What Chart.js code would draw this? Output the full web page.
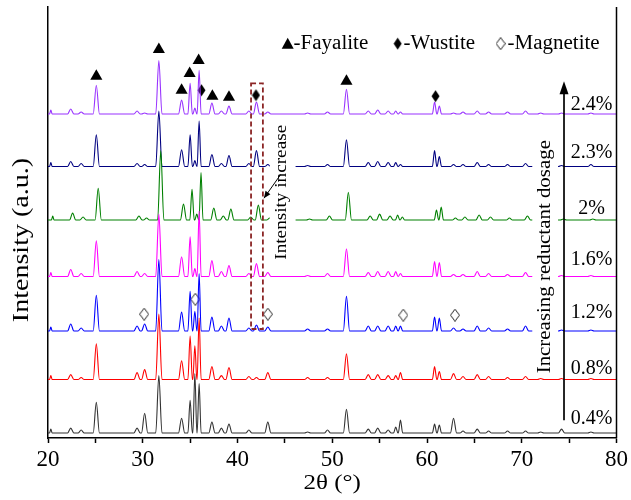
<!DOCTYPE html>
<html>
<head>
<meta charset="utf-8">
<script src="https://cdn.jsdelivr.net/npm/chart.js@4"></script>
<style>
  html, body { margin: 0; padding: 0; background: #fff; }
  #wrap { width: 631px; height: 500px; }
</style>
</head>
<body>
<div id="wrap"><canvas id="xrd"></canvas></div>
<script>
const serif = '"Liberation Serif", "Times New Roman", serif'

// peak positions (2theta, deg) shared by all patterns
const peakPos = [20.3, 22.4, 23.5, 25.1, 29.4, 30.2, 31.7, 34.1, 35.0, 35.5, 35.95, 37.3, 38.3, 39.1, 41.2, 42.0, 43.2, 47.4, 49.5, 51.5,
                 53.8, 54.8, 55.9, 56.7, 57.2, 60.8, 61.3, 62.8, 63.8, 65.3, 66.5, 68.5, 70.4, 72.0, 74.2, 77.3]

// peak heights (a.u.) read per pattern, same order as peakPos
const h04 = [4, 5, 3, 31, 5, 20, 58, 15, 33, 60, 50, 11, 5, 9, 3, 0, 11, 1, 3, 24, 4, 5, 3, 6, 13, 9, 8, 15, 2, 4, 2, 2, 2, 1, 4, 1]
const h08 = [4, 5, 2, 36, 7, 10, 66, 19, 44, 34, 62, 13, 4, 12, 3, 2, 7, 2, 2, 26, 5, 5, 4, 4, 7, 13, 8, 6, 3, 5, 3, 2, 3, 1, 1, 1]
const h12 = [4, 7, 3, 36, 5, 7, 72, 19, 40, 20, 58, 14, 5, 13, 3, 6, 4, 2, 2, 35, 5, 5, 5, 5, 5, 14, 13, 3, 2, 5, 3, 2, 5, 0, 1, 1]
const h16 = [4, 7, 3, 36, 5, 3, 63, 20, 40, 8, 66, 16, 5, 11, 3, 13, 4, 1, 3, 28, 4, 5, 5, 5, 3, 15, 14, 2, 2, 5, 3, 2, 4, 1, 1, 1]
const h20 = [4, 7, 3, 32, 4, 2, 70, 16, 31, 6, 48, 12, 4, 11, 3, 15, 2, 1, 4, 28, 4, 6, 4, 5, 3, 10, 13, 2, 3, 5, 3, 2, 4, 1, 1, 1]
const h23 = [4, 5, 3, 32, 3, 2, 56, 17, 32, 6, 46, 12, 3, 11, 3, 16, 2, 1, 2, 27, 4, 5, 4, 4, 2, 16, 10, 2, 2, 4, 2, 2, 3, 1, 1, 2]
const h24 = [4, 5, 2, 29, 3, 1, 54, 14, 31, 6, 44, 11, 3, 8, 3, 12, 2, 1, 2, 25, 3, 4, 3, 3, 2, 12, 8, 1, 2, 3, 2, 2, 3, 1, 1, 1]

const dosages = ['0.4%', '0.8%', '1.2%', '1.6%', '2%', '2.3%', '2.4%']
const stackOffset = [5, 59, 108, 163, 220, 274, 327]
const angleShift = [0, 0, 0, 0, 0.2, 0, 0]
const labelLevel = [19, 70, 126, 180, 231, 288, 336]
const colors = ['#333333', '#ff0000', '#0000ff', '#ff00ff', '#008000', '#000080', '#9933ff']

// phase markers [2theta, intensity]
const fayaliteMarks = [[25.1, 365], [31.7, 392], [34.1, 351], [34.95, 368], [35.9, 381], [37.35, 345], [39.1, 344], [51.5, 360]]
const wustiteMarks = [[36.2, 351], [41.95, 346], [60.9, 345]]
const magnetiteMarks = [[30.15, 125], [35.55, 140], [43.2, 125], [57.5, 124], [62.95, 124]]

const heights = [h04, h08, h12, h16, h20, h23, h24]

function tracePoints(i) {
    const base = stackOffset[i]
    const pts = [{x: 20, y: base}]
    peakPos.forEach((p, k) => {
        const h = heights[i][k]
        if (!h) return
        const prev = k > 0 ? peakPos[k - 1] : 20
        const next = k < peakPos.length - 1 ? peakPos[k + 1] : 80
        const w = Math.min(0.33, (p - prev) * 0.47, (next - p) * 0.47)
        const c = p + angleShift[i]
        pts.push({x: c - w, y: base}, {x: c, y: base + h}, {x: c + w, y: base})
    })
    pts.push({x: 80, y: base})
    return pts
}

function diamond(w, h, filled) {
    const c = document.createElement('canvas')
    c.width = w
    c.height = h
    const g = c.getContext('2d')
    g.beginPath()
    g.moveTo(w / 2, 0.5)
    g.lineTo(w - 0.5, h / 2)
    g.lineTo(w / 2, h - 0.5)
    g.lineTo(0.5, h / 2)
    g.closePath()
    if (filled) { g.fillStyle = '#000'; g.fill() }
    else { g.strokeStyle = '#222'; g.lineWidth = 1; g.stroke() }
    return c
}
const solidDiamond = diamond(9, 13, true)
const openDiamond = diamond(10, 13, false)

const datasets = heights.map((h, i) => ({
    label: dosages[i],
    data: tracePoints(i),
    showLine: true,
    cubicInterpolationMode: 'monotone',
    borderColor: colors[i],
    borderWidth: 1.1,
    pointRadius: 0
}))
datasets.push({
    label: 'Fayalite',
    data: fayaliteMarks.map(m => ({x: m[0], y: m[1]})),
    pointStyle: 'triangle', pointRadius: 7, backgroundColor: '#000', borderColor: '#000', borderWidth: 0
})
datasets.push({
    label: 'Wustite',
    data: wustiteMarks.map(m => ({x: m[0], y: m[1]})),
    pointStyle: solidDiamond, pointRadius: 6
})
datasets.push({
    label: 'Magnetite',
    data: magnetiteMarks.map(m => ({x: m[0], y: m[1]})),
    pointStyle: openDiamond, pointRadius: 6
})

function text(ctx, str, x, y, size, rotate, stretch, align) {
    ctx.save()
    ctx.translate(x, y)
    if (rotate) ctx.rotate(rotate)
    ctx.scale(stretch || 1, 1)
    ctx.font = size + 'px ' + serif
    ctx.fillStyle = '#000'
    ctx.textAlign = align || 'center'
    ctx.textBaseline = 'middle'
    ctx.fillText(str, 0, 0)
    ctx.restore()
}

function arrowHead(ctx, x0, y0, x1, y1, len, half) {
    const a = Math.atan2(y1 - y0, x1 - x0)
    ctx.beginPath()
    ctx.moveTo(x1, y1)
    ctx.lineTo(x1 - len * Math.cos(a) + half * Math.sin(a), y1 - len * Math.sin(a) - half * Math.cos(a))
    ctx.lineTo(x1 - len * Math.cos(a) - half * Math.sin(a), y1 - len * Math.sin(a) + half * Math.cos(a))
    ctx.closePath()
    ctx.fill()
}

const decorations = {
    id: 'decorations',
    afterDatasetsDraw(chart) {
        const {ctx, chartArea} = chart
        const X = v => chart.scales.x.getPixelForValue(v)
        const Y = v => chart.scales.y.getPixelForValue(v)
        ctx.save()

        // label backgrounds hide the traces under the rotated notes
        ctx.fillStyle = '#fff'
        ctx.fillRect(X(43.41), Y(316), X(46.13) - X(43.41), Y(180) - Y(316))
        ctx.fillRect(X(71.11), Y(306), X(73.83) - X(71.11), Y(62) - Y(306))

        // dashed box round the wustite peak
        ctx.strokeStyle = '#8b2525'
        ctx.lineWidth = 1.8
        ctx.setLineDash([5, 3])
        ctx.strokeRect(X(41.43), Y(358), X(42.68) - X(41.43), Y(110) - Y(358))
        ctx.setLineDash([])

        // small arrow from the note
        ctx.strokeStyle = '#000'
        ctx.fillStyle = '#000'
        ctx.lineWidth = 1
        ctx.beginPath()
        ctx.moveTo(X(44.56), Y(266))
        ctx.lineTo(X(42.79), Y(242))
        ctx.stroke()
        arrowHead(ctx, X(44.56), Y(266), X(42.79), Y(242), 7, 3)
        text(ctx, 'Intensity increase', X(44.67), Y(248), 16, -Math.PI / 2, 1.2)

        // dosage arrow
        ctx.lineWidth = 1.7
        ctx.beginPath()
        ctx.moveTo(X(74.46), Y(18))
        ctx.lineTo(X(74.46), Y(350))
        ctx.stroke()
        arrowHead(ctx, X(74.46), Y(18), X(74.46), Y(360), 13, 4.5)
        text(ctx, 'Increasing reductant dosage', X(72.47), Y(183), 19, -Math.PI / 2, 1.1)

        dosages.forEach((d, i) => text(ctx, d, X(77.38), Y(labelLevel[i]), 20))

        // legend
        const ly = Y(398)
        ctx.beginPath()
        ctx.moveTo(X(45.3), ly - 6)
        ctx.lineTo(X(45.3) + 6, ly + 5)
        ctx.lineTo(X(45.3) - 6, ly + 5)
        ctx.closePath()
        ctx.fill()
        text(ctx, '-Fayalite', X(45.92), ly, 20, 0, 1.05, 'left')
        ctx.drawImage(solidDiamond, X(56.9) - 4.5, ly - 6.5)
        text(ctx, '-Wustite', X(57.53), ly, 20, 0, 1.05, 'left')
        ctx.drawImage(openDiamond, X(67.77) - 5, ly - 6.5)
        text(ctx, '-Magnetite', X(68.5), ly, 20, 0, 1.05, 'left')

        // right frame
        ctx.lineWidth = 1.5
        ctx.beginPath()
        ctx.moveTo(chartArea.right, chartArea.top)
        ctx.lineTo(chartArea.right, chartArea.bottom)
        ctx.stroke()

        // axis titles
        text(ctx, '2\u03b8 (\u00b0)', (chartArea.left + chartArea.right) / 2, 483, 21, 0, 1.19)
        text(ctx, 'Intensity (a.u.)', 22, 240, 23, -Math.PI / 2, 1.22)
        ctx.restore()
    }
}

new Chart(document.getElementById('xrd'), {
    type: 'scatter',
    data: { datasets: datasets },
    options: {
        responsive: true,
        maintainAspectRatio: false,
        animation: false,
        layout: { padding: { top: 3, right: 9, left: 0, bottom: 0 } },
        plugins: { legend: { display: false }, tooltip: { enabled: false } },
        scales: {
            x: {
                type: 'linear', min: 20, max: 80,
                ticks: {
                    stepSize: 5, maxRotation: 0, padding: 3, color: '#000',
                    font: { family: serif, size: 23 },
                    callback: v => v % 10 === 0 ? v : ''
                },
                grid: { drawOnChartArea: false, tickLength: 5, color: '#000', tickWidth: 1.5 },
                border: { color: '#000', width: 1.5 },
                afterFit: s => { s.height = 62 }
            },
            y: {
                min: 0, max: 435,
                ticks: { display: false },
                grid: { display: false },
                border: { color: '#000', width: 1.5 },
                afterFit: s => { s.width = 48 }
            }
        }
    },
    plugins: [decorations]
})
</script>
</body>
</html>
